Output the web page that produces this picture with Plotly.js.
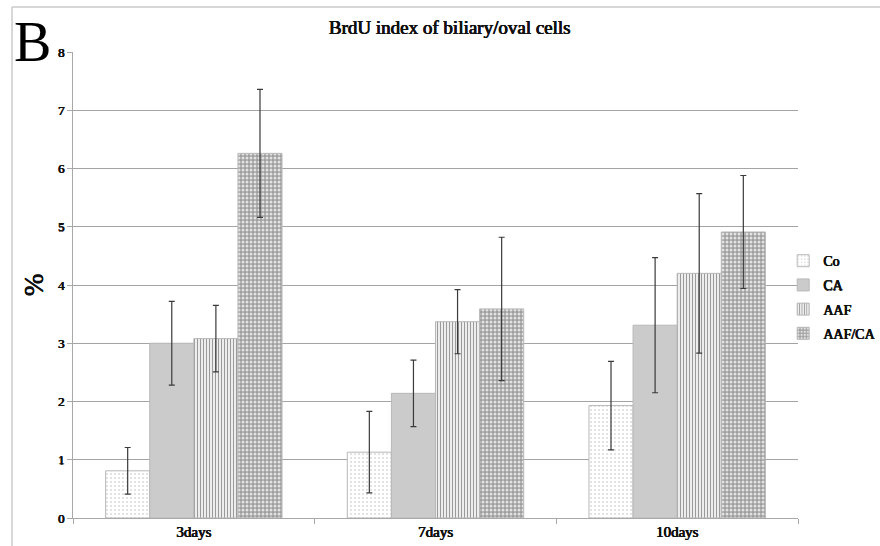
<!DOCTYPE html>
<html>
<head>
<meta charset="utf-8">
<script src="https://cdn.plot.ly/plotly-3.0.1.min.js"></script>
<style>
html,body{margin:0;padding:0;background:#fff;}
#chart{width:880px;height:546px;}
</style>
</head>
<body>
<div id="chart"></div>
<script>
const categories = ["3days", "7days", "10days"];
const seriesNames = ["Co", "CA", "AAF", "AAF/CA"];
const coValues = [0.81, 1.13, 1.93];
const coErrors = [0.40, 0.70, 0.76];
const caValues = [3.00, 2.14, 3.31];
const caErrors = [0.72, 0.57, 1.16];
const aafValues = [3.08, 3.37, 4.20];
const aafErrors = [0.57, 0.55, 1.37];
const aafcaValues = [6.26, 3.59, 4.91];
const aafcaErrors = [1.10, 1.23, 0.97];
const yTicks = [0, 1, 2, 3, 4, 5, 6, 7, 8];

const serif = "Liberation Serif";
// Liberation Serif bold face is not available: fake the bold weight with a tight text shadow
const boldShadow = "0.5px 0 0 #111, 0.25px 0.25px 0 #111, -0.25px 0 0 #111";
const errStyle = {type: "data", visible: true, color: "#3a3a3a", thickness: 1.2, width: 3};
const lineStyle = {color: "#b8b8b8", width: 1};

function mk(name, vals, errs, pattern, color) {
  return {
    type: "bar", name: name, x: categories, y: vals, legendgroup: name,
    error_y: Object.assign({array: errs}, errStyle),
    marker: {color: color, line: lineStyle, pattern: pattern},
    hoverinfo: "skip"
  };
}

const data = [
  mk(seriesNames[0], coValues, coErrors, {shape: ".", bgcolor: "#ffffff", fgcolor: "#dadada", size: 4, solidity: 0.2}, "#ffffff"),
  mk(seriesNames[1], caValues, caErrors, {shape: ""}, "#cbcbcb"),
  mk(seriesNames[2], aafValues, aafErrors, {shape: "|", bgcolor: "#ffffff", fgcolor: "#9a9a9a", size: 3, solidity: 0.45}, "#ffffff"),
  mk(seriesNames[3], aafcaValues, aafcaErrors, {shape: ".", bgcolor: "#9e9e9e", fgcolor: "#e2e2e2", size: 4, solidity: 0.45}, "#9e9e9e")
];

const layout = {
  width: 880, height: 546,
  margin: {l: 73, r: 82, t: 52, b: 28, autoexpand: false},
  paper_bgcolor: "#ffffff", plot_bgcolor: "#ffffff",
  barmode: "group", bargap: 0.27, bargroupgap: 0,
  showlegend: true,
  font: {family: serif, color: "#000"},
  title: {
    text: "BrdU index of biliary/oval cells",
    font: {family: serif, size: 19, color: "#111", shadow: boldShadow},
    x: 0.511, xref: "container", xanchor: "center",
    y: 0.9505, yref: "container", yanchor: "middle"
  },
  xaxis: {
    type: "category",
    showline: true, linecolor: "#a8a8a8", linewidth: 1,
    ticks: "outside", tickson: "boundaries", ticklen: 5, tickcolor: "#a8a8a8",
    tickfont: {family: serif, size: 15, color: "#111", shadow: boldShadow},
    showgrid: false, zeroline: false, fixedrange: true
  },
  yaxis: {
    range: [0, 8],
    tickvals: yTicks,
    showline: true, linecolor: "#a8a8a8", linewidth: 1,
    ticks: "outside", ticklen: 5, tickcolor: "#a8a8a8",
    tickfont: {family: serif, size: 13, color: "#111", shadow: boldShadow},
    showgrid: true, gridcolor: "#a4a4a4", gridwidth: 1,
    zeroline: false, fixedrange: true,
    title: {text: "%", font: {family: serif, size: 27, color: "#111", shadow: boldShadow}, standoff: 6}
  },
  legend: {
    xref: "container", x: 0.89, xanchor: "left", y: 0.474, yanchor: "middle",
    bgcolor: "rgba(0,0,0,0)",
    font: {family: serif, size: 14, color: "#111", shadow: boldShadow},
    tracegroupgap: 3, traceorder: "grouped",
    itemwidth: 30
  },
  shapes: [
    {type: "line", xref: "paper", yref: "paper", x0: -0.0841, x1: -0.0841, y0: 1.0966, y1: -0.2, line: {color: "#b0b0b0", width: 1}},
    {type: "line", xref: "paper", yref: "paper", x0: -0.0841, x1: 1.2, y0: 1.0966, y1: 1.0966, line: {color: "#b0b0b0", width: 1}}
  ],
  annotations: [
    {text: "B", xref: "paper", yref: "paper", x: -0.0828, y: 1.09, xanchor: "left", yanchor: "top",
     showarrow: false, font: {family: serif, size: 56, color: "#000"}, borderpad: 0}
  ]
};

Plotly.newPlot("chart", data, layout, {displayModeBar: false, staticPlot: true});
</script>
</body>
</html>
